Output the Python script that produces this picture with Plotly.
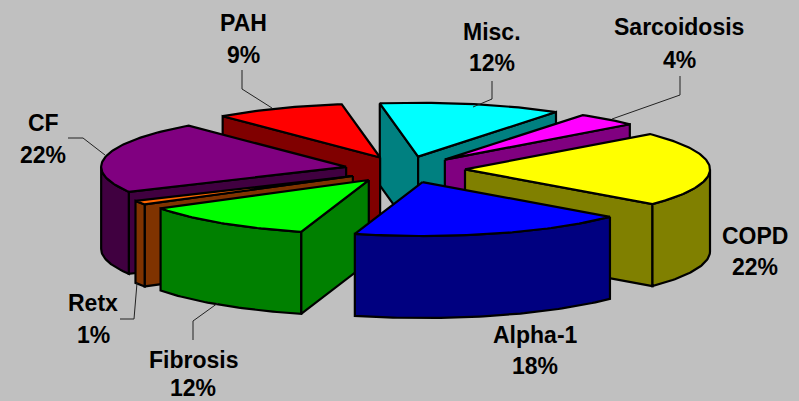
import math
import plotly.graph_objects as go

names = ["Misc.", "Sarcoidosis", "COPD", "Alpha-1", "Fibrosis", "Retx", "CF", "PAH"]
values = [12.0, 4.1, 22.49, 18.3, 11.7, 1.2, 21.5, 8.6]
top_colors = ["#00FFFF", "#FF00FF", "#FFFF00", "#0000FF", "#00FF00", "#FF6600", "#800080", "#FF0000"]
wall_colors = ["#008080", "#800080", "#808000", "#000080", "#008000", "#7F3300", "#400040", "#800000"]
label_x = [492, 679, 755, 535, 193, 93, 43, 243]
label_y1 = [32, 27, 236, 335, 360, 303, 123, 23]
label_y2 = [63, 60, 267, 366, 388, 335, 155, 55]
leaders = {
    "Misc.": ([492, 492, 473], [81, 99, 107]),
    "Sarcoidosis": ([680, 680, 612], [76, 95, 119]),
    "CF": ([68, 83, 105], [138, 138, 155]),
    "Retx": ([120, 134, 137], [319, 319, 283]),
    "Fibrosis": ([193, 193, 218], [340, 321, 303]),
    "PAH": ([242, 242, 272], [70, 89, 108]),
}

CX, CY, R, TILT, EXPLODE, DEPTH, START = 405, 169.5, 245, 0.22, 60, 82, -9.0
FONT = dict(family="Liberation Sans", size=23, color="#000000")
total = sum(values)


def project(apex, theta, radius):
    t = math.radians(theta)
    return apex[0] + radius * math.sin(t), apex[1] - TILT * radius * math.cos(t)


def arc(apex, a0, a1):
    n = max(2, int(abs(a1 - a0)) + 1)
    return [project(apex, a0 + (a1 - a0) * i / (n - 1), R) for i in range(n)]


def add_poly(fig, pts, color):
    xs = [p[0] for p in pts] + [pts[0][0]]
    ys = [p[1] for p in pts] + [pts[0][1]]
    fig.add_trace(go.Scatter(x=xs, y=ys, mode="lines", fill="toself", fillcolor=color,
                             line=dict(color="#000000", width=2.2), hoverinfo="skip", showlegend=False))


def extrude(top):
    return top + [(x, y + DEPTH) for x, y in reversed(top)]


slices = []
angle = START
for i, v in enumerate(values):
    a0, a1 = angle, angle + v / total * 360
    angle = a1
    mid = math.radians((a0 + a1) / 2)
    apex = (CX + EXPLODE * math.sin(mid), CY - TILT * EXPLODE * math.cos(mid))
    slices.append((apex[1], i, a0, a1, apex))

fig = go.Figure()
for _, i, a0, a1, apex in sorted(slices, key=lambda s: s[0]):
    wall = wall_colors[i]
    s0, e0 = math.sin(math.radians(a0)), math.sin(math.radians(a1))
    if s0 < 0:
        add_poly(fig, extrude([apex, project(apex, a0, R)]), wall)
    if e0 > 0:
        add_poly(fig, extrude([apex, project(apex, a1, R)]), wall)
    lo, hi = max(a0, 90), min(a1, 270)
    if lo < hi:
        add_poly(fig, extrude(arc(apex, lo, hi)), wall)
    add_poly(fig, [apex] + arc(apex, a0, a1), top_colors[i])

for name, (lx, ly) in leaders.items():
    fig.add_trace(go.Scatter(x=lx, y=ly, mode="lines", line=dict(color="#222222", width=1),
                             hoverinfo="skip", showlegend=False))

for i, name in enumerate(names):
    fig.add_annotation(x=label_x[i], y=label_y1[i], text=f"<b>{name}</b>", showarrow=False, font=FONT)
    fig.add_annotation(x=label_x[i], y=label_y2[i], text=f"<b>{round(values[i])}%</b>", showarrow=False, font=FONT)

fig.update_layout(
    width=799, height=401, margin=dict(l=0, r=0, t=0, b=0),
    paper_bgcolor="#C0C0C0", plot_bgcolor="#C0C0C0", showlegend=False,
    xaxis=dict(range=[0, 799], visible=False, fixedrange=True),
    yaxis=dict(range=[401, 0], visible=False, fixedrange=True),
)
fig.write_html("out.html", config={"displayModeBar": False},
               post_script="document.body.style.margin='0';document.body.style.overflow='hidden';document.body.style.background='#C0C0C0';")
